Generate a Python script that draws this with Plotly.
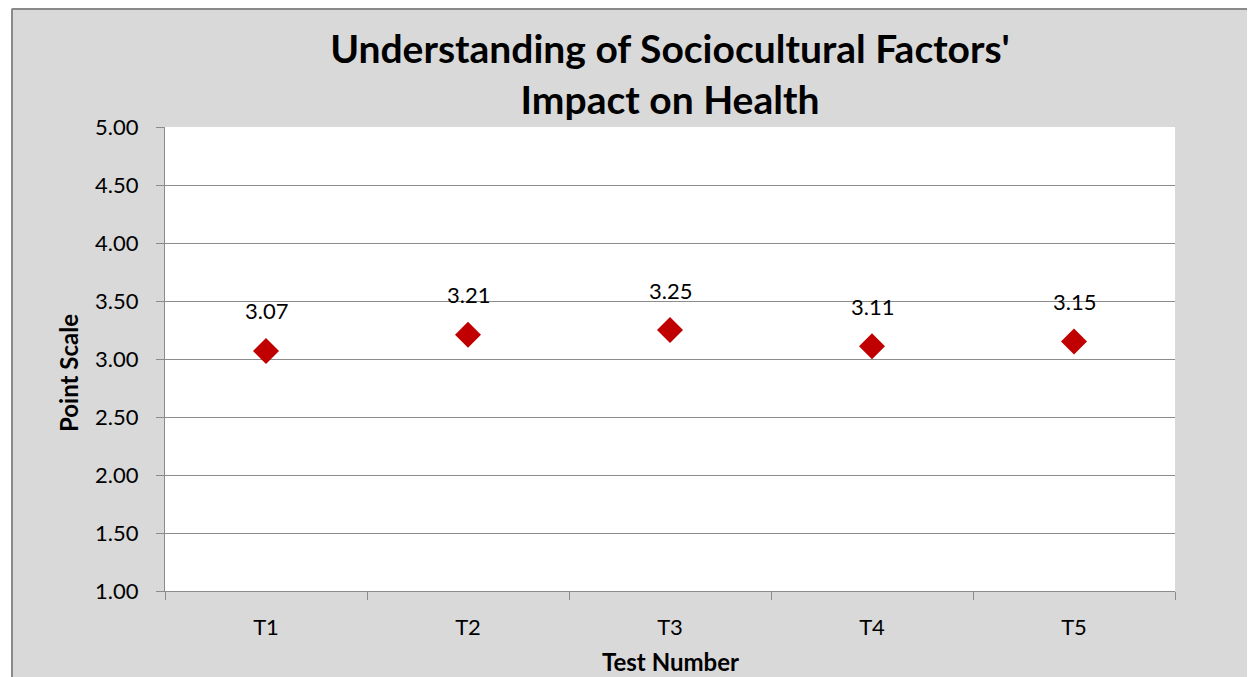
import plotly.graph_objects as go

categories = ["T1", "T2", "T3", "T4", "T5"]
values = [3.07, 3.21, 3.25, 3.11, 3.15]
value_labels = ["3.07", "3.21", "3.25", "3.11", "3.15"]
y_ticks = [1.0, 1.5, 2.0, 2.5, 3.0, 3.5, 4.0, 4.5, 5.0]

W, H = 1255, 677
OFF = 8  # page body margin
# plot area in page pixels
L, R, T, B = 165, 1175, 127, 591
FONT = "Lato"

def px(x):
    return (x - L) / (R - L)

def py(y):
    return (B - y) / (B - T)

fig = go.Figure()
fig.add_trace(go.Scatter(
    x=categories, y=values, mode="markers",
    marker=dict(symbol="diamond", size=20, color="#C00000", line=dict(width=0)),
    showlegend=False, cliponaxis=False,
))

for c, v, lab in zip(categories, values, value_labels):
    fig.add_annotation(x=c, y=v, text=lab, showarrow=False, yshift=40,
                       font=dict(family=FONT, size=22, color="#000000"))

grid = "#8C8C8C"
shapes = [
    dict(type="line", xref="paper", yref="paper", x0=px(12), x1=px(12), y0=py(H + 20), y1=py(9),
         line=dict(color="#8A8A8A", width=2), layer="above"),
    dict(type="line", xref="paper", yref="paper", x0=px(12), x1=px(W + 20), y0=py(9), y1=py(9),
         line=dict(color="#8A8A8A", width=2), layer="above"),
    dict(type="rect", xref="paper", yref="paper", x0=px(0), x1=px(11), y0=py(H + 20), y1=py(0),
         fillcolor="white", line=dict(width=0), layer="above"),
    dict(type="rect", xref="paper", yref="paper", x0=px(0), x1=px(W + 20), y0=py(8), y1=py(0),
         fillcolor="white", line=dict(width=0), layer="above"),
]

fig.update_layout(
    width=W, height=H,
    margin=dict(l=L - OFF, r=W - R + OFF, t=T - OFF, b=H - B + OFF, pad=0),
    paper_bgcolor="#D9D9D9", plot_bgcolor="white",
    font=dict(family=FONT, color="#000000"),
    title=dict(text="Understanding of Sociocultural Factors'<br>Impact on Health",
               x=0.5, xanchor="center", xref="paper", y=1 - (63 - OFF) / H, yanchor="middle",
               font=dict(family=FONT, size=39, color="#000000", weight="bold")),
    shapes=shapes,
    annotations=list(fig.layout.annotations) + [
        dict(text="<b>Point Scale</b>", xref="paper", yref="paper", x=px(68), y=py(373),
             xanchor="center", yanchor="middle",
             showarrow=False, textangle=-90, font=dict(family=FONT, size=24)),
        dict(text="<b>Test Number</b>", xref="paper", yref="paper", x=px(670), y=py(661),
             xanchor="center", yanchor="middle",
             showarrow=False, font=dict(family=FONT, size=24)),
    ],
)

fig.update_xaxes(
    type="category", categoryorder="array", categoryarray=categories,
    range=[-0.5, 4.5], tickson="boundaries", ticks="outside", ticklen=8,
    tickcolor=grid, tickwidth=1, showline=True, linecolor=grid, linewidth=1,
    showgrid=False, tickfont=dict(family=FONT, size=22), ticklabelstandoff=17,
    zeroline=False,
)
fig.update_yaxes(
    range=[1, 5], tickvals=y_ticks, tickformat=".2f", ticks="outside", ticklen=8,
    tickcolor=grid, tickwidth=1, showline=True, linecolor=grid, linewidth=1,
    showgrid=True, gridcolor=grid, gridwidth=1, zeroline=False,
    tickfont=dict(family=FONT, size=22), ticklabelstandoff=13,
)

fig.write_html("out.html")
